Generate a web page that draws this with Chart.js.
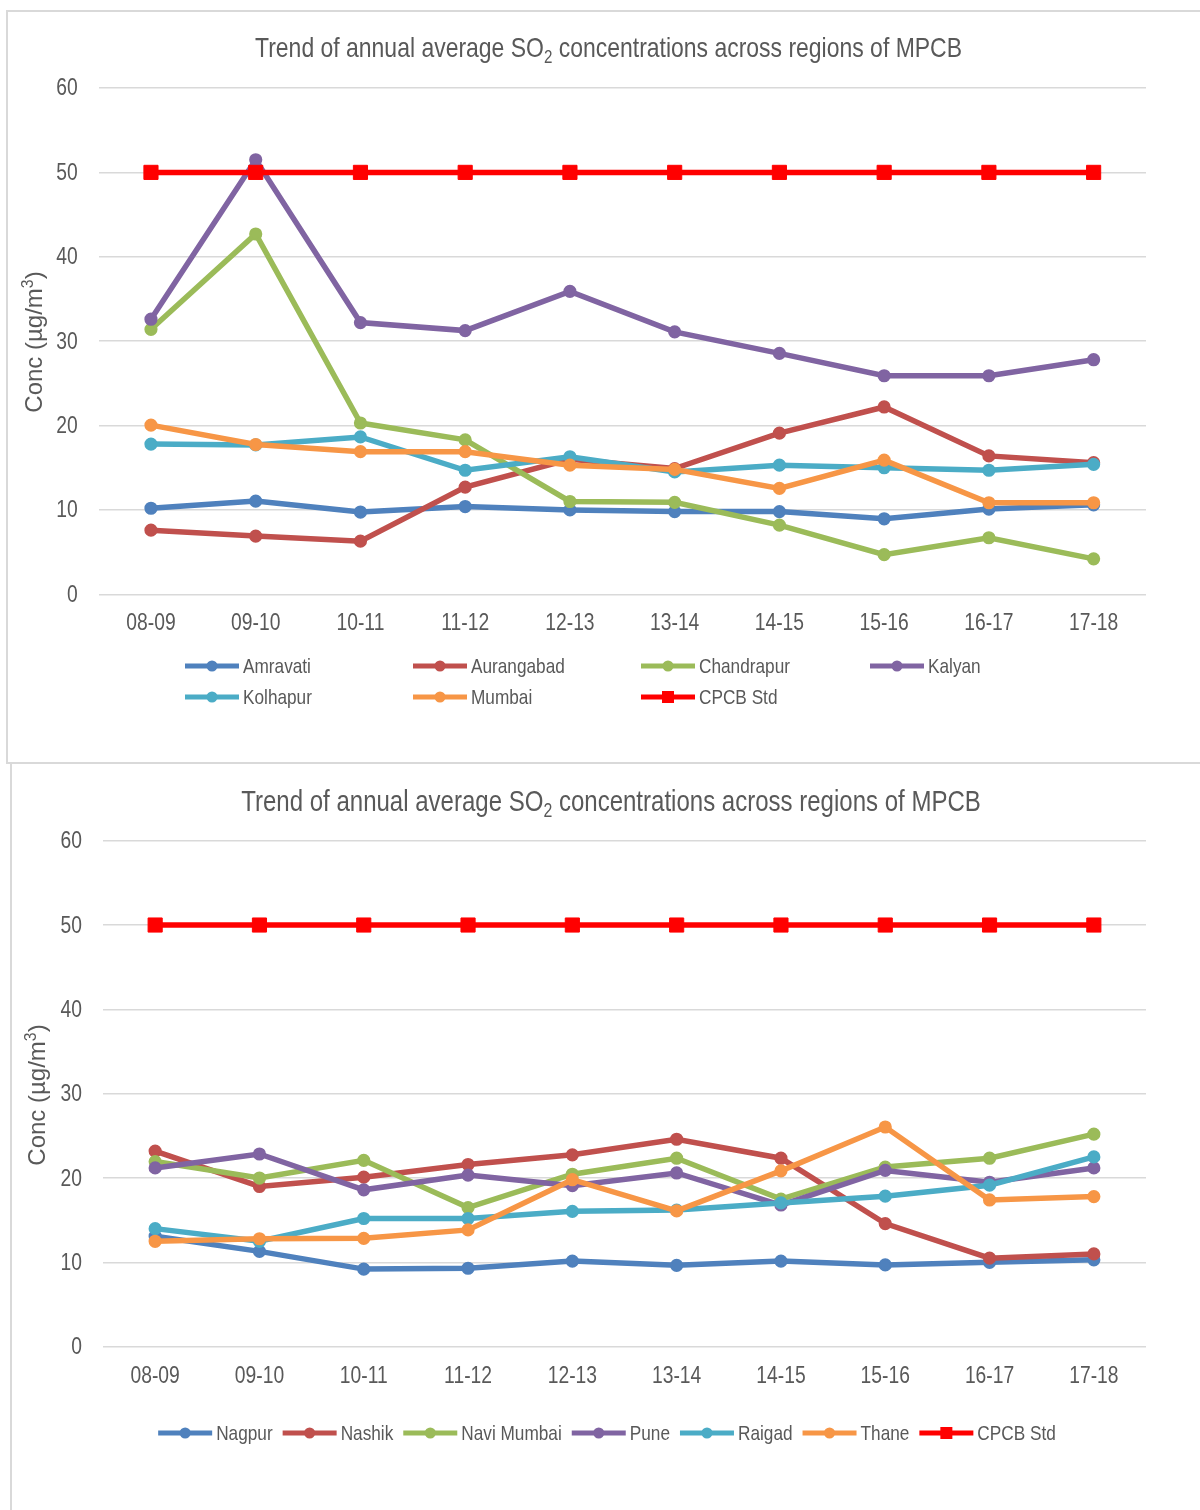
<!DOCTYPE html>
<html>
<head>
<meta charset="utf-8">
<title>Annual average SO2 trends - MPCB regions</title>
<script src="https://cdn.jsdelivr.net/npm/chart.js@4.4.0/dist/chart.umd.min.js"></script>
<style>
  html, body { margin: 0; padding: 0; background: #ffffff; width: 1200px; height: 1510px; overflow: hidden; }
  #frameA { position: absolute; left: 6px; top: 10px; width: 1300px; height: 754px; box-sizing: border-box;
            border: 2px solid #d9d9d9; border-right: none; }
  #frameB { position: absolute; left: 10px; top: 764px; width: 2px; height: 760px; background: #d9d9d9; }
  #chartA { position: absolute; left: 0; top: 0; }
  #chartB { position: absolute; left: 0; top: 764px; }
</style>
</head>
<body>
<div id="frameA"></div>
<div id="frameB"></div>
<canvas id="chartA" width="1200" height="762"></canvas>
<canvas id="chartB" width="1200" height="746"></canvas>
<script>
// ---- data: annual average SO2 (µg/m³) per region ----
const years = ['08-09', '09-10', '10-11', '11-12', '12-13', '13-14', '14-15', '15-16', '16-17', '17-18'];
const yTicks = [0, 10, 20, 30, 40, 50, 60];

const amravati   = [10.2, 11.05, 9.75, 10.4, 10.0, 9.8, 9.8, 8.95, 10.1, 10.6];
const aurangabad = [7.6, 6.9, 6.3, 12.7, 16.0, 14.9, 19.1, 22.2, 16.4, 15.6];
const chandrapur = [31.4, 42.7, 20.3, 18.3, 11.0, 10.9, 8.2, 4.7, 6.7, 4.2];
const kalyan     = [32.6, 51.5, 32.2, 31.25, 35.9, 31.1, 28.55, 25.9, 25.9, 27.8];
const kolhapur   = [17.8, 17.7, 18.65, 14.7, 16.3, 14.5, 15.3, 15.0, 14.7, 15.4];
const mumbai     = [20.05, 17.75, 16.9, 16.9, 15.3, 14.8, 12.55, 15.9, 10.85, 10.85];

const nagpur     = [13.1, 11.3, 9.2, 9.3, 10.15, 9.65, 10.15, 9.7, 10.0, 10.3];
const nashik     = [23.2, 19.0, 20.1, 21.6, 22.75, 24.6, 22.35, 14.6, 10.5, 11.0];
const naviMumbai = [21.95, 20.0, 22.1, 16.5, 20.45, 22.35, 17.5, 21.3, 22.35, 25.2];
const pune       = [21.2, 22.85, 18.6, 20.35, 19.1, 20.6, 16.8, 20.9, 19.5, 21.2];
const raigad     = [14.0, 12.5, 15.2, 15.2, 16.05, 16.2, 17.05, 17.85, 19.15, 22.5];
const thane      = [12.5, 12.8, 12.85, 13.85, 19.8, 16.1, 20.85, 26.05, 17.4, 17.8];

const cpcbStd    = [50, 50, 50, 50, 50, 50, 50, 50, 50, 50];

const seriesA = [
  { name: 'Amravati',   values: amravati,   color: '#4F81BD' },
  { name: 'Aurangabad', values: aurangabad, color: '#C0504D' },
  { name: 'Chandrapur', values: chandrapur, color: '#9BBB59' },
  { name: 'Kalyan',     values: kalyan,     color: '#8064A2' },
  { name: 'Kolhapur',   values: kolhapur,   color: '#4BACC6' },
  { name: 'Mumbai',     values: mumbai,     color: '#F79646' },
  { name: 'CPCB Std',   values: cpcbStd,    color: '#FF0000', square: true }
];
const seriesB = [
  { name: 'Nagpur',      values: nagpur,     color: '#4F81BD' },
  { name: 'Nashik',      values: nashik,     color: '#C0504D' },
  { name: 'Navi Mumbai', values: naviMumbai, color: '#9BBB59' },
  { name: 'Pune',        values: pune,       color: '#8064A2' },
  { name: 'Raigad',      values: raigad,     color: '#4BACC6' },
  { name: 'Thane',       values: thane,      color: '#F79646' },
  { name: 'CPCB Std',    values: cpcbStd,    color: '#FF0000', square: true }
];

const FAMILY = "'Liberation Sans', Arial, sans-serif";
const NARROW_X = 0.82;          // horizontal squeeze giving a narrow face
const TEXT = '#595959';

// text squeezed horizontally around its anchor point
function narrowText(ctx, text, x, y, size, align, baseline) {
  ctx.save();
  ctx.font = size + 'px ' + FAMILY;
  ctx.textAlign = align;
  ctx.textBaseline = baseline;
  ctx.translate(x, y);
  ctx.scale(NARROW_X, 1);
  ctx.fillText(text, 0, 0);
  ctx.restore();
}
function narrowWidth(ctx, text, size) {
  ctx.font = size + 'px ' + FAMILY;
  return ctx.measureText(text).width * NARROW_X;
}

// draws a sequence of text runs, with optional subscript / superscript pieces
function drawRuns(ctx, runs, cx, y, size, squeeze) {
  const sx = squeeze ? NARROW_X : 1;
  const pieces = runs.map(r => {
    const s = (r.sub || r.sup) ? size * 0.66 : size;
    ctx.font = s + 'px ' + FAMILY;
    return { t: r.t, s, w: ctx.measureText(r.t).width * sx,
             dy: r.sub ? size * 0.21 : (r.sup ? -size * 0.36 : 0) };
  });
  const total = pieces.reduce((a, p) => a + p.w, 0);
  let x = cx - total / 2;
  for (const p of pieces) {
    ctx.save();
    ctx.font = p.s + 'px ' + FAMILY;
    ctx.textAlign = 'left';
    ctx.textBaseline = 'alphabetic';
    ctx.translate(x, y + p.dy);
    ctx.scale(sx, 1);
    ctx.fillText(p.t, 0, 0);
    ctx.restore();
    x += p.w;
  }
}

function drawLegendSample(ctx, ds, x, y) {
  ctx.strokeStyle = ds.borderColor;
  ctx.lineWidth = 5;
  ctx.beginPath();
  ctx.moveTo(x, y);
  ctx.lineTo(x + 54, y);
  ctx.stroke();
  ctx.fillStyle = ds.borderColor;
  if (ds.pointStyle === 'rect') {
    ctx.fillRect(x + 27 - 6, y - 6, 12, 12);
  } else {
    ctx.beginPath();
    ctx.arc(x + 27, y, 5.5, 0, Math.PI * 2);
    ctx.fill();
  }
}

// axis tick labels, titles and legend
const annotations = {
  id: 'annotations',
  afterDraw(chart, args, opts) {
    const ctx = chart.ctx;
    const area = chart.chartArea;
    ctx.save();
    ctx.fillStyle = TEXT;

    // category labels along the x scale
    const xs = chart.scales.x;
    chart.data.labels.forEach((lab, i) => {
      narrowText(ctx, lab, xs.getPixelForTick(i), area.bottom + opts.xLabelOffset, opts.tickSize, 'center', 'middle');
    });
    // value labels along the y scale
    const ys = chart.scales.y;
    ys.ticks.forEach(t => {
      narrowText(ctx, String(t.value), area.left - 21, ys.getPixelForValue(t.value) + 1, opts.tickSize, 'right', 'middle');
    });

    drawRuns(ctx, opts.title.runs, opts.title.x, opts.title.y, opts.title.size, true);

    ctx.save();
    ctx.translate(opts.yTitle.x, opts.yTitle.y);
    ctx.rotate(-Math.PI / 2);
    ctx.fillStyle = TEXT;
    drawRuns(ctx, opts.yTitle.runs, 0, opts.yTitle.size * 0.36, opts.yTitle.size, false);
    ctx.restore();

    const datasets = chart.data.datasets;
    const lg = opts.legend;
    if (lg.mode === 'grid') {
      datasets.forEach((ds, i) => {
        const col = i % lg.cols.length, row = Math.floor(i / lg.cols.length);
        const x = lg.cols[col], y = lg.rows[row];
        drawLegendSample(ctx, ds, x, y);
        ctx.fillStyle = TEXT;
        narrowText(ctx, ds.label, x + 58, y + 1, lg.size, 'left', 'middle');
      });
    } else {
      const widths = datasets.map(ds => 58 + narrowWidth(ctx, ds.label, lg.size));
      const total = widths.reduce((a, w) => a + w, 0) + lg.gap * (datasets.length - 1);
      let x = lg.center - total / 2;
      datasets.forEach((ds, i) => {
        drawLegendSample(ctx, ds, x, lg.y);
        ctx.fillStyle = TEXT;
        narrowText(ctx, ds.label, x + 58, lg.y + 1, lg.size, 'left', 'middle');
        x += widths[i] + lg.gap;
      });
    }
    ctx.restore();
  }
};

function makeChart(canvasId, series, geo) {
  const n = series.length;
  return new Chart(document.getElementById(canvasId), {
    type: 'line',
    data: {
      labels: years,
      datasets: series.map((s, i) => ({
        label: s.name,
        data: s.values,
        borderColor: s.color,
        backgroundColor: s.color,
        pointBackgroundColor: s.color,
        pointBorderColor: s.color,
        borderWidth: 5.5,
        pointStyle: s.square ? 'rect' : 'circle',
        pointRadius: s.square ? 10 : 5.6,
        pointBorderWidth: s.square ? 1 : 2,
        tension: 0,
        fill: false,
        order: n - i
      }))
    },
    options: {
      responsive: false,
      animation: false,
      devicePixelRatio: 1,
      events: [],
      layout: { padding: { left: 0, right: geo.right, top: geo.top, bottom: 0 } },
      plugins: {
        legend: { display: false },
        title: { display: false },
        tooltip: { enabled: false },
        annotations: geo.annotations
      },
      scales: {
        x: {
          offset: true,
          grid: { display: false, drawTicks: false },
          border: { display: false },
          ticks: { display: false },
          afterFit(scale) { scale.height = geo.xHeight; }
        },
        y: {
          min: yTicks[0],
          max: yTicks[yTicks.length - 1],
          afterBuildTicks(scale) { scale.ticks = yTicks.map(v => ({ value: v })); },
          grid: { color: '#d9d9d9', lineWidth: 1.5, drawTicks: false },
          border: { display: false },
          ticks: { display: false },
          afterFit(scale) { scale.width = geo.left; }
        }
      }
    },
    plugins: [annotations]
  });
}

const titleRuns = [
  { t: 'Trend of annual average SO' },
  { t: '2', sub: true },
  { t: ' concentrations across regions of MPCB' }
];
const yTitleRuns = [
  { t: 'Conc (µg/m' },
  { t: '3', sup: true },
  { t: ')' }
];

makeChart('chartA', seriesA, {
  left: 98.6, right: 54, top: 88, xHeight: 167.7,
  annotations: {
    tickSize: 23.5, xLabelOffset: 29.7,
    title: { runs: titleRuns, x: 608.5, y: 57.3, size: 28 },
    yTitle: { runs: yTitleRuns, x: 33, y: 342, size: 24 },
    legend: { mode: 'grid', size: 21, cols: [185, 413, 641, 870], rows: [666, 697] }
  }
});

makeChart('chartB', seriesB, {
  left: 103, right: 54, top: 76.7, xHeight: 163.3,
  annotations: {
    tickSize: 23.5, xLabelOffset: 29.5,
    title: { runs: titleRuns, x: 611, y: 46.7, size: 29.3 },
    yTitle: { runs: yTitleRuns, x: 36, y: 331, size: 24 },
    legend: { mode: 'row', size: 21, center: 607, y: 669, gap: 10 }
  }
});
</script>
</body>
</html>
